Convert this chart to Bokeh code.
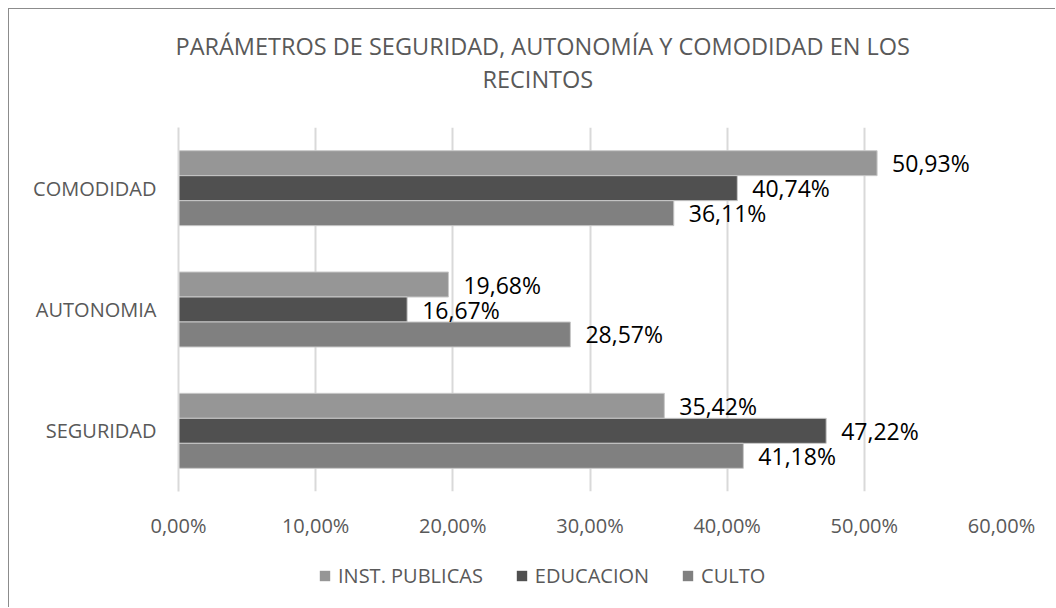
from bokeh.plotting import figure
from bokeh.layouts import column
from bokeh.models import (ColumnDataSource, FactorRange, Range1d, FixedTicker, Legend,
                          LegendItem, Title, LabelSet)
from bokeh.transform import dodge
from bokeh.embed import file_html
from bokeh.resources import INLINE
from bokeh.core.properties import value

# ---- data ----
categories = ["SEGURIDAD", "AUTONOMIA", "COMODIDAD"]
series_names = ["INST. PUBLICAS", "EDUCACION", "CULTO"]
inst_publicas = [35.42, 19.68, 50.93]
educacion = [47.22, 16.67, 40.74]
culto = [41.18, 28.57, 36.11]
x_ticks = [0, 10, 20, 30, 40, 50, 60]
x_tick_labels = ["0,00%", "10,00%", "20,00%", "30,00%", "40,00%", "50,00%", "60,00%"]
title_lines = ["PARÁMETROS DE SEGURIDAD, AUTONOMÍA Y COMODIDAD EN LOS", "RECINTOS"]

colors = ["#969696", "#505050", "#808080"]
offsets = [0.206, 0.0, -0.206]
bar_h = 0.206
FONT = "Open Sans"
TXT = "#595959"


def fmt(v):
    return f"{v:.2f}".replace(".", ",") + "%"


p = figure(width=1046, height=542, output_backend="svg", toolbar_location=None,
           y_range=FactorRange(factors=categories, range_padding=0.0),
           x_range=Range1d(0, 60),
           min_border_left=169, min_border_right=54, min_border_top=118,
           min_border_bottom=60)
p.outline_line_color = None
p.background_fill_color = "white"
p.border_fill_color = "white"

for name, vals, col, off in zip(series_names, [inst_publicas, educacion, culto], colors, offsets):
    src = ColumnDataSource(dict(cat=categories, v=vals, lab=[fmt(v) for v in vals]))
    p.hbar(y=dodge("cat", off, range=p.y_range), right="v", left=0, height=bar_h,
           source=src, fill_color=col, line_color="#c8c8c8", line_width=1)
    ls = LabelSet(x="v", y=dodge("cat", off, range=p.y_range), text="lab", source=src,
                  x_offset=15, text_baseline="middle", text_align="left",
                  text_font=value(FONT), text_font_size="23px", text_color="black")
    p.add_layout(ls)

# axes
p.xaxis.ticker = FixedTicker(ticks=x_ticks)
p.xaxis.major_label_overrides = {t: l for t, l in zip(x_ticks, x_tick_labels)}
p.xaxis.axis_line_color = None
p.xaxis.major_tick_line_color = None
p.xaxis.minor_tick_line_color = None
p.xaxis.major_tick_out = 0
p.xaxis.major_label_standoff = 20
p.xaxis.major_label_text_font = FONT
p.xaxis.major_label_text_font_size = "20px"
p.xaxis.major_label_text_color = TXT

p.yaxis.axis_line_color = "#d9d9d9"
p.yaxis.axis_line_width = 2
p.yaxis.major_tick_line_color = None
p.yaxis.major_tick_out = 0
p.yaxis.major_label_standoff = 22
p.yaxis.major_label_text_font = FONT
p.yaxis.major_label_text_font_size = "20px"
p.yaxis.major_label_text_color = TXT

p.xgrid.grid_line_color = "#d9d9d9"
p.xgrid.grid_line_width = 2
p.ygrid.grid_line_color = None

# title (two lines, centred over the whole chart rather than the plot area)
# blank spacer panel between the title and the plot area
p.add_layout(Title(text=" ", standoff=29, text_font=FONT, text_font_size="2px"), "above")
p.add_layout(Title(text=title_lines[1], align="left", offset=304, standoff=-2,
                   text_font=FONT, text_font_size="23.5px", text_color=TXT,
                   text_font_style="normal"), "above")
p.add_layout(Title(text=title_lines[0], align="left", offset=-3, standoff=0,
                   text_font=FONT, text_font_size="23.5px", text_color=TXT,
                   text_font_style="normal"), "above")

# legend strip below the chart (frames of the column are aligned)
lf = figure(width=1046, height=56, output_backend="svg", toolbar_location=None,
            x_range=Range1d(0, 1), y_range=Range1d(0, 1),
            x_axis_location=None, y_axis_location=None, min_border=0)
lf.outline_line_color = None
lf.grid.grid_line_color = None
items = []
for name, col in zip(series_names, colors):
    # legend proxy, kept outside the visible range
    r = lf.hbar(y=[-5], right=[0.5], left=0, height=0.1, fill_color=col, line_color=None)
    items.append(LegendItem(label=name, renderers=[r]))
legend = Legend(items=items, orientation="horizontal", location=(140, 18),
                label_text_font=FONT, label_text_font_size="20px",
                label_text_color=TXT, glyph_width=13, glyph_height=13,
                label_standoff=7, spacing=32, padding=0, margin=0,
                border_line_color=None, background_fill_alpha=0)
lf.add_layout(legend, "center")

layout = column(p, lf, spacing=0,
                styles={"margin-left": "8px", "margin-top": "8px",
                        "border-left": "1px solid #8c8c8c",
                        "border-top": "1px solid #8c8c8c"})

open("out.html", "w").write(file_html(layout, INLINE))
